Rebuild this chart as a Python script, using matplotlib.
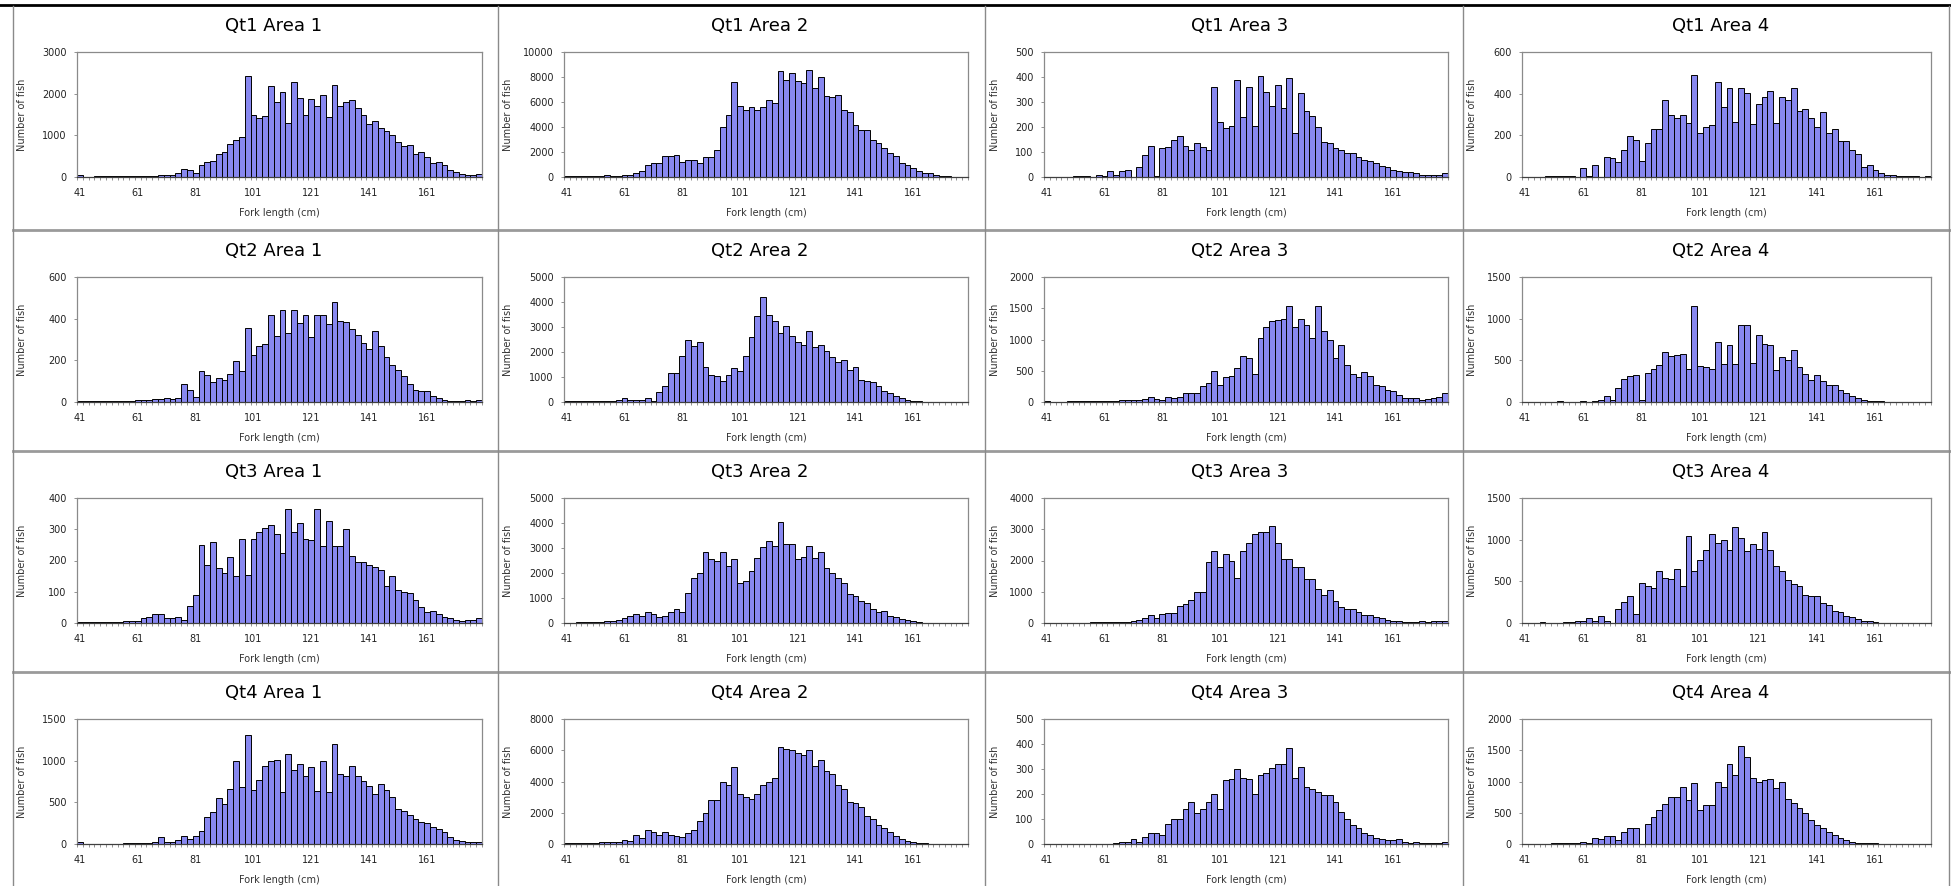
import numpy as np
import matplotlib
matplotlib.use("Agg")
import matplotlib.pyplot as plt
from matplotlib.lines import Line2D

plt.rcParams['font.family'] = ['DejaVu Sans']

# Fork-length classes (2 cm bins), labelled by their lower value
fork_length = list(range(41, 181, 2))
tick_every = 10

# Number of fish per fork-length class, by quarter and area
qt1_area1 = [40, 0, 0, 20, 20, 20, 20, 20, 20, 20,
             20, 20, 20, 20, 50, 50, 60, 100, 200, 170,
             90, 300, 350, 380, 550, 600, 800, 900, 950, 2430,
             1480, 1420, 1470, 2180, 1800, 2030, 1300, 2280, 1900, 1500,
             1870, 1700, 1980, 1430, 2200, 1700, 1800, 1850, 1650, 1500,
             1280, 1350, 1180, 1100, 1000, 850, 750, 780, 560, 600,
             480, 330, 370, 280, 170, 110, 80, 40, 40, 80]
qt1_area2 = [50, 50, 50, 50, 50, 100, 100, 150, 100, 100,
             150, 200, 300, 500, 1000, 1100, 1100, 1700, 1700, 1800,
             1200, 1400, 1400, 1100, 1600, 1600, 2200, 4000, 5000, 7600,
             5700, 5400, 5600, 5400, 5600, 6200, 5900, 8500, 7800, 8300,
             7700, 7500, 8600, 7100, 8000, 6500, 6400, 6600, 5400, 5200,
             4200, 3800, 3800, 3000, 2700, 2300, 1900, 1700, 1100, 1000,
             700, 500, 350, 300, 150, 80, 60, 40, 30, 20]
qt1_area3 = [0, 0, 0, 0, 0, 5, 5, 5, 0, 10,
             5, 25, 10, 25, 30, 0, 40, 90, 125, 5,
             115, 120, 150, 165, 125, 110, 135, 120, 110, 360,
             220, 195, 205, 390, 240, 360, 205, 405, 340, 285,
             370, 275, 395, 175, 335, 265, 245, 200, 140, 135,
             115, 110, 95, 95, 80, 70, 65, 55, 45, 40,
             30, 25, 20, 20, 15, 10, 10, 8, 10, 15]
qt1_area4 = [0, 0, 0, 0, 5, 5, 5, 5, 5, 0,
             45, 5, 60, 0, 95, 90, 70, 130, 195, 180,
             75, 165, 230, 230, 370, 300, 285, 300, 260, 490,
             210, 240, 250, 455, 335, 425, 265, 425, 405, 255,
             350, 385, 415, 260, 385, 370, 425, 315, 325, 285,
             240, 310, 210, 230, 175, 175, 130, 110, 50, 60,
             35, 20, 10, 8, 5, 3, 3, 5, 2, 5]

qt2_area1 = [5, 5, 5, 5, 5, 5, 5, 5, 5, 5,
             10, 10, 10, 15, 15, 20, 15, 20, 85, 60,
             25, 150, 130, 95, 115, 105, 135, 195, 150, 355,
             225, 270, 280, 420, 315, 440, 330, 440, 380, 420,
             310, 420, 420, 375, 480, 390, 385, 350, 320, 285,
             255, 340, 270, 215, 180, 155, 125, 85, 60, 55,
             55, 30, 20, 10, 5, 5, 5, 10, 5, 10]
qt2_area2 = [30, 30, 30, 40, 40, 50, 50, 50, 50, 100,
             150, 80, 80, 100, 150, 60, 400, 650, 1150, 1150,
             1850, 2500, 2250, 2400, 1400, 1100, 1050, 850, 1100, 1350,
             1250, 1850, 2600, 3450, 4200, 3500, 3250, 2750, 3050, 2650,
             2400, 2300, 2850, 2200, 2300, 2050, 1800, 1600, 1700, 1300,
             1400, 900, 850, 800, 650, 450, 350, 250, 150, 100,
             50, 30, 20, 10, 5, 5, 5, 5, 5, 5]
qt2_area3 = [10, 0, 5, 5, 10, 10, 15, 10, 10, 10,
             20, 20, 20, 25, 30, 40, 40, 50, 80, 50,
             40, 80, 70, 80, 150, 150, 150, 250, 300, 500,
             280, 400, 410, 550, 730, 700, 450, 1020, 1200, 1300,
             1310, 1330, 1540, 1200, 1330, 1230, 1020, 1540, 1130, 1000,
             700, 920, 600, 450, 400, 480, 420, 280, 250, 200,
             180, 120, 70, 70, 70, 40, 50, 60, 80, 150]
qt2_area4 = [0, 0, 0, 0, 0, 5, 10, 5, 5, 5,
             10, 5, 15, 20, 70, 30, 170, 280, 310, 320,
             30, 350, 400, 450, 600, 550, 570, 580, 400, 1150,
             430, 420, 400, 720, 460, 680, 460, 920, 920, 470,
             800, 700, 680, 380, 540, 500, 630, 420, 340, 270,
             330, 250, 210, 210, 150, 110, 70, 50, 30, 15,
             10, 10, 5, 5, 5, 5, 5, 5, 5, 5]

qt3_area1 = [2, 2, 2, 3, 3, 3, 4, 4, 5, 5,
             8, 15, 20, 28, 28, 15, 15, 20, 10, 55,
             90, 250, 185, 260, 175, 160, 210, 150, 270, 155,
             270, 290, 305, 315, 285, 225, 365, 290, 320, 270,
             265, 365, 245, 325, 245, 245, 300, 215, 195, 195,
             185, 180, 170, 120, 150, 105, 100, 95, 75, 50,
             35, 40, 30, 20, 15, 10, 8, 10, 10, 15]
qt3_area2 = [20, 20, 30, 30, 40, 50, 50, 80, 100, 120,
             200, 300, 350, 300, 450, 350, 250, 300, 450, 550,
             450, 1200, 1800, 2000, 2850, 2550, 2500, 2850, 2300, 2550,
             1600, 1700, 2100, 2600, 3050, 3300, 3100, 4050, 3150, 3150,
             2550, 2650, 3100, 2600, 2850, 2200, 2000, 1800, 1600, 1150,
             1100, 900, 800, 550, 450, 500, 300, 250, 150, 130,
             80, 40, 20, 10, 10, 10, 10, 10, 10, 10]
qt3_area3 = [10, 10, 10, 10, 10, 10, 10, 10, 20, 20,
             20, 20, 20, 30, 30, 50, 100, 150, 250, 150,
             300, 330, 330, 550, 600, 750, 1000, 1000, 1950, 2300,
             1800, 2200, 2000, 1450, 2300, 2550, 2850, 2900, 2900, 3100,
             2550, 2050, 2050, 1800, 1800, 1400, 1400, 1100, 900, 1050,
             700, 500, 450, 450, 350, 250, 250, 200, 150, 100,
             50, 50, 30, 20, 20, 50, 30, 50, 50, 80]
qt3_area4 = [0, 0, 0, 10, 5, 5, 5, 10, 10, 20,
             30, 60, 30, 80, 20, 0, 170, 250, 330, 110,
             480, 450, 420, 620, 540, 530, 650, 450, 1050, 620,
             760, 880, 1070, 960, 1000, 880, 1150, 1020, 860, 950,
             890, 1090, 880, 690, 620, 520, 470, 450, 340, 320,
             330, 240, 220, 150, 130, 90, 70, 50, 30, 20,
             10, 5, 5, 5, 5, 5, 5, 5, 5, 5]

qt4_area1 = [20, 5, 5, 5, 5, 5, 5, 5, 10, 10,
             10, 10, 10, 30, 80, 30, 30, 50, 100, 60,
             100, 160, 320, 380, 550, 480, 660, 1000, 690, 1310,
             650, 770, 940, 1000, 1010, 620, 1080, 890, 960, 820,
             920, 640, 1000, 620, 1200, 840, 820, 940, 820, 760,
             700, 600, 720, 650, 560, 420, 400, 350, 300, 260,
             250, 200, 180, 150, 80, 50, 40, 30, 20, 20]
qt4_area2 = [50, 50, 50, 50, 80, 80, 100, 100, 100, 150,
             250, 200, 600, 400, 900, 800, 600, 750, 550, 500,
             450, 700, 900, 1500, 2000, 2800, 2800, 4000, 3800, 4900,
             3200, 3000, 2900, 3200, 3800, 4000, 4200, 6200, 6100, 6000,
             5800, 5700, 6000, 5000, 5400, 4700, 4500, 3800, 3500, 2700,
             2600, 2400, 1800, 1600, 1200, 1000, 750, 500, 350, 200,
             100, 50, 50, 30, 30, 20, 20, 20, 20, 20]
qt4_area3 = [0, 0, 0, 0, 0, 0, 0, 0, 0, 0,
             0, 2, 5, 8, 10, 20, 10, 30, 45, 45,
             35, 80, 100, 100, 140, 170, 125, 140, 170, 200,
             140, 255, 260, 300, 265, 260, 200, 275, 285, 305,
             320, 320, 385, 265, 310, 230, 220, 210, 195, 195,
             170, 130, 100, 75, 65, 45, 35, 25, 20, 15,
             15, 20, 10, 5, 8, 5, 5, 5, 3, 8]
qt4_area4 = [5, 5, 5, 5, 5, 10, 10, 10, 10, 20,
             30, 20, 100, 80, 130, 130, 60, 200, 250, 260,
             0, 320, 430, 540, 640, 750, 750, 920, 700, 970,
             540, 620, 620, 1000, 920, 1280, 1100, 1570, 1400, 1050,
             1000, 1030, 1040, 900, 990, 720, 660, 580, 500, 380,
             300, 250, 200, 150, 90, 60, 40, 20, 10, 10,
             10, 5, 5, 5, 5, 5, 5, 5, 5, 5]

titles = [["Qt1 Area 1", "Qt1 Area 2", "Qt1 Area 3", "Qt1 Area 4"],
          ["Qt2 Area 1", "Qt2 Area 2", "Qt2 Area 3", "Qt2 Area 4"],
          ["Qt3 Area 1", "Qt3 Area 2", "Qt3 Area 3", "Qt3 Area 4"],
          ["Qt4 Area 1", "Qt4 Area 2", "Qt4 Area 3", "Qt4 Area 4"]]
series = [[qt1_area1, qt1_area2, qt1_area3, qt1_area4],
          [qt2_area1, qt2_area2, qt2_area3, qt2_area4],
          [qt3_area1, qt3_area2, qt3_area3, qt3_area4],
          [qt4_area1, qt4_area2, qt4_area3, qt4_area4]]
y_max = [[3000, 10000, 500, 600],
         [600, 5000, 2000, 1500],
         [400, 5000, 4000, 1500],
         [1500, 8000, 500, 2000]]
y_step = [[1000, 2000, 100, 200],
          [200, 1000, 500, 500],
          [100, 1000, 1000, 500],
          [500, 2000, 100, 500]]

# ---- page geometry (pixels) ----
W, H = 1951, 886
fig = plt.figure(figsize=(W / 100, H / 100), dpi=100)
fig.patch.set_facecolor("white")

cell_left = [13, 498, 985, 1463]
cell_top = [5, 230, 451, 672]
ax_left = [77, 564, 1044, 1522]
ax_width = [405, 404, 404, 409]
ylabel_gap = [50, 51, 44, 45]
ax_top_off = 47
ax_height = 125


def fx(x):
    return x / W


def fy(y):
    return 1 - y / H


bar_color = "#8888F0"
x = np.arange(len(fork_length))

for r in range(4):
    for c in range(4):
        left = ax_left[c]
        top = cell_top[r] + ax_top_off
        ax = fig.add_axes([fx(left), fy(top + ax_height),
                           ax_width[c] / W, ax_height / H])
        vals = series[r][c]
        ax.bar(x, vals, width=1.0, color=bar_color, edgecolor="black",
               linewidth=0.7, zorder=2)
        ax.set_xlim(-0.5, len(fork_length) - 0.5)
        ax.set_ylim(0, y_max[r][c])
        ax.set_yticks(np.arange(0, y_max[r][c] + 1, y_step[r][c]))
        ax.set_xticks(x[::tick_every])
        ax.set_xticklabels([str(v) for v in fork_length[::tick_every]])
        ax.set_xticks(np.arange(-0.5, len(fork_length), 1), minor=True)
        ax.tick_params(axis="x", which="major", length=0, pad=8,
                       labelsize=7, colors="#222222")
        ax.tick_params(axis="x", which="minor", length=2.5, direction="out",
                       color="#808080", width=0.6)
        ax.tick_params(axis="y", which="major", length=2.5, direction="out",
                       pad=5, labelsize=7, color="#808080",
                       labelcolor="#222222", width=0.6)
        for s in ax.spines.values():
            s.set_color("#8a8a8a")
            s.set_linewidth(0.9)
        ax.spines["bottom"].set_color("#404040")
        ax.set_ylabel("Number of fish", fontsize=7, color="#333333")
        ax.yaxis.set_label_coords(-ylabel_gap[c] / ax_width[c], 0.5)
        ax.set_xlabel("Fork length (cm)", fontsize=7, color="#333333")
        ax.xaxis.set_label_coords(0.5, -0.25)
        fig.text(fx(left + ax_width[c] / 2 - 6), fy(cell_top[r] + 21),
                 titles[r][c], ha="center", va="center", fontsize=13)

# ---- table rules ----
fig.add_artist(Line2D([0, 1], [fy(5), fy(5)], color="black", lw=2.0,
                      transform=fig.transFigure))
for yline in cell_top[1:]:
    fig.add_artist(Line2D([fx(13), 1], [fy(yline), fy(yline)],
                          color="#9a9a9a", lw=2.0, transform=fig.transFigure))
for xline in cell_left + [1949]:
    fig.add_artist(Line2D([fx(xline), fx(xline)], [fy(6), 0],
                          color="#8a8a8a", lw=1.0, transform=fig.transFigure))

fig.savefig("out.png", dpi=100, facecolor="white")
